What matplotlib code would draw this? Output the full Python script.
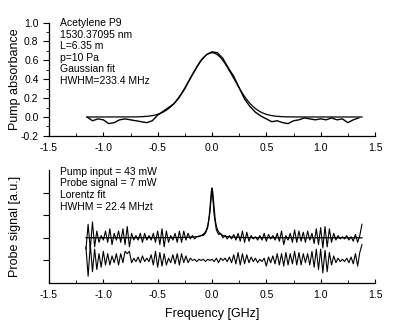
import matplotlib
matplotlib.use('Agg')
import matplotlib.pyplot as plt
import numpy as np
from matplotlib import ticker

plt.rcParams['font.family'] = ['Liberation Sans', 'DejaVu Sans']

# Pump absorbance scan (GHz offset, absorbance)
PUMP_START = -1.15
PUMP_STEP = 0.05
pump_absorbance = [
    0.0, -0.04, -0.02, -0.03, -0.07, -0.06, -0.03, -0.02, -0.03, -0.04,
    -0.05, -0.06, -0.04, 0.02, 0.06, 0.10, 0.14, 0.21, 0.30, 0.41,
    0.51, 0.60, 0.66, 0.69, 0.68, 0.62, 0.52, 0.43, 0.31, 0.19,
    0.11, 0.05, 0.01, -0.02, -0.05, -0.04, -0.06, -0.07, -0.04, -0.03,
    -0.01, -0.02, -0.03, -0.02, -0.03, -0.01, -0.03, -0.02, -0.06, -0.03,
    -0.01,
]

# Gaussian fit parameters
GAUSS_PEAK = 0.68
GAUSS_HWHM = 0.2334  # GHz

# Probe signal scans (a.u.), with and without the pump
PROBE_START = -1.16
PROBE_STEP = 0.02
probe_with_pump = [
    1.5, 2.6, 1.5, 2.7, 1.6, 2.3, 1.8, 2.1, 1.9, 2.3,
    1.8, 2.4, 1.7, 2.2, 1.9, 2.3, 1.8, 2.4, 1.7, 2.5,
    1.6, 2.2, 1.9, 2.1, 1.9, 2.2, 1.8, 2.2, 1.9, 2.1,
    1.9, 2.2, 1.8, 2.3, 1.7, 2.4, 1.6, 2.3, 1.8, 2.1,
    1.9, 2.2, 1.8, 2.3, 1.8, 2.3, 1.9, 2.2, 1.95, 2.1,
    1.95, 2.05, 2.05, 2.1, 2.1, 2.2, 2.45, 3.1, 4.2, 3.0,
    2.35, 2.15, 2.2, 2.0, 2.1, 1.95, 2.1, 1.95, 2.15, 1.9,
    2.2, 1.85, 2.3, 1.8, 2.25, 1.85, 2.1, 1.95, 2.05, 1.9,
    2.1, 1.9, 2.2, 1.85, 2.15, 1.95, 2.1, 1.9, 2.2, 1.85,
    2.3, 1.7, 2.1, 1.9, 2.2, 1.8, 2.35, 1.8, 2.3, 1.85,
    2.25, 1.8, 2.3, 1.9, 2.2, 1.75, 2.4, 1.7, 2.45, 1.55,
    2.5, 1.6, 2.4, 1.8, 2.2, 1.9, 2.1, 1.95, 2.05, 1.95,
    2.1, 1.9, 2.05, 1.85, 2.15, 1.8, 2.1, 2.6,
]
probe_no_pump = [
    1.6, 0.3, 1.7, 0.5, 1.5, 0.6, 1.3, 0.7, 1.4, 0.8,
    1.3, 0.8, 1.2, 0.9, 1.3, 0.8, 1.3, 0.9, 1.4, 1.3,
    1.4, 0.9, 1.1, 0.95, 1.15, 0.9, 1.2, 0.95, 1.1, 0.95,
    1.25, 0.8, 1.4, 0.7, 1.35, 0.75, 1.3, 0.8, 1.1, 0.9,
    1.25, 0.85, 1.3, 0.8, 1.3, 0.9, 1.2, 0.9, 1.1, 1.0,
    1.05, 0.95, 1.05, 1.0, 1.05, 0.95, 1.05, 1.0, 1.05, 0.95,
    1.1, 0.9, 1.1, 1.0, 1.1, 0.95, 1.15, 0.9, 1.25, 0.85,
    1.35, 0.8, 1.3, 0.85, 1.25, 0.9, 1.15, 0.95, 1.1, 0.9,
    1.05, 0.95, 1.1, 0.75, 1.15, 0.9, 1.2, 0.85, 1.3, 0.8,
    1.3, 0.75, 1.35, 0.8, 1.3, 0.85, 1.4, 0.8, 1.35, 0.8,
    1.3, 0.9, 1.3, 0.8, 1.4, 0.7, 1.5, 0.6, 1.5, 0.45,
    1.45, 0.5, 1.35, 0.8, 1.2, 0.9, 1.1, 0.95, 1.05, 0.95,
    1.1, 0.9, 1.15, 0.85, 1.3, 0.75, 1.35, 1.7,
]

# Lorentz fit parameters
LORENTZ_BASE = 2.0
LORENTZ_PEAK = 2.2
LORENTZ_HWHM = 0.0224  # GHz

pump_info = ['Acetylene P9', '1530.37095 nm', 'L=6.35 m', 'p=10 Pa',
             'Gaussian fit', 'HWHM=233.4 MHz']
probe_info = ['Pump input = 43 mW', 'Probe signal = 7 mW', 'Lorentz fit',
              'HWHM = 22.4 MHzt']

f_pump = PUMP_START + PUMP_STEP * np.arange(len(pump_absorbance))
f_probe = PROBE_START + PROBE_STEP * np.arange(len(probe_with_pump))

# Fit curves evaluated over the scanned range
f_fit = np.linspace(f_pump[0], f_pump[-1] + 0.03, 600)
sigma = GAUSS_HWHM / np.sqrt(2 * np.log(2))
gauss_fit = GAUSS_PEAK * np.exp(-0.5 * (f_fit / sigma) ** 2)
f_lor = np.linspace(f_probe[0], f_probe[-1], 1200)
lorentz_fit = LORENTZ_BASE + LORENTZ_PEAK / (1 + (f_lor / LORENTZ_HWHM) ** 2)

fig = plt.figure(figsize=(4.0, 3.22), dpi=100)
ax1 = fig.add_axes([0.1225, 0.578, 0.815, 0.352])
ax2 = fig.add_axes([0.1225, 0.121, 0.815, 0.351])

for ax in (ax1, ax2):
    ax.spines['top'].set_visible(False)
    ax.spines['right'].set_visible(False)
    ax.spines['left'].set_linewidth(0.9)
    ax.spines['bottom'].set_linewidth(0.9)
    ax.set_xlim(-1.5, 1.5)
    ax.xaxis.set_major_locator(ticker.MultipleLocator(0.5))
    ax.xaxis.set_minor_locator(ticker.MultipleLocator(0.25))
    ax.xaxis.set_major_formatter(ticker.FormatStrFormatter('%.1f'))
    ax.tick_params(axis='x', which='both', direction='in', labelsize=7.5, pad=5)
    ax.tick_params(axis='x', which='major', length=3)
    ax.tick_params(axis='x', which='minor', length=2)
    ax.tick_params(axis='y', which='both', direction='out', labelsize=7.5)
    ax.tick_params(axis='y', which='major', length=4)
    ax.tick_params(axis='y', which='minor', length=2)

# Pump absorbance panel
ax1.plot(f_fit, gauss_fit, color='black', lw=0.9)
ax1.plot(f_pump, pump_absorbance, color='black', lw=1.0)
ax1.set_ylim(-0.2, 1.0)
ax1.yaxis.set_major_locator(ticker.MultipleLocator(0.2))
ax1.yaxis.set_minor_locator(ticker.MultipleLocator(0.1))
ax1.yaxis.set_major_formatter(ticker.FormatStrFormatter('%.1f'))
ax1.set_ylabel('Pump absorbance', fontsize=9)
ax1.yaxis.set_label_coords(-0.085, 0.5)
for i, line in enumerate(pump_info):
    ax1.text(60, 299 - i * 11.6, line, transform=None, fontsize=7.5,
             va='center', ha='left')

# Probe signal panel
ax2.plot(f_lor, lorentz_fit, color='black', lw=0.9)
ax2.plot(f_probe, probe_with_pump, color='black', lw=0.8)
ax2.plot(f_probe, probe_no_pump, color='black', lw=0.8)
ax2.set_ylim(0, 5)
ax2.yaxis.set_major_locator(ticker.FixedLocator([1, 2, 3, 4]))
ax2.yaxis.set_minor_locator(ticker.NullLocator())
ax2.yaxis.set_major_formatter(ticker.NullFormatter())
ax2.set_ylabel('Probe signal [a.u.]', fontsize=9)
ax2.yaxis.set_label_coords(-0.085, 0.5)
ax2.set_xlabel('Frequency [GHz]', fontsize=9, labelpad=6)
for i, line in enumerate(probe_info):
    ax2.text(60, 150 - i * 11.5, line, transform=None, fontsize=7.5,
             va='center', ha='left')

fig.savefig('out.png', dpi=100)
